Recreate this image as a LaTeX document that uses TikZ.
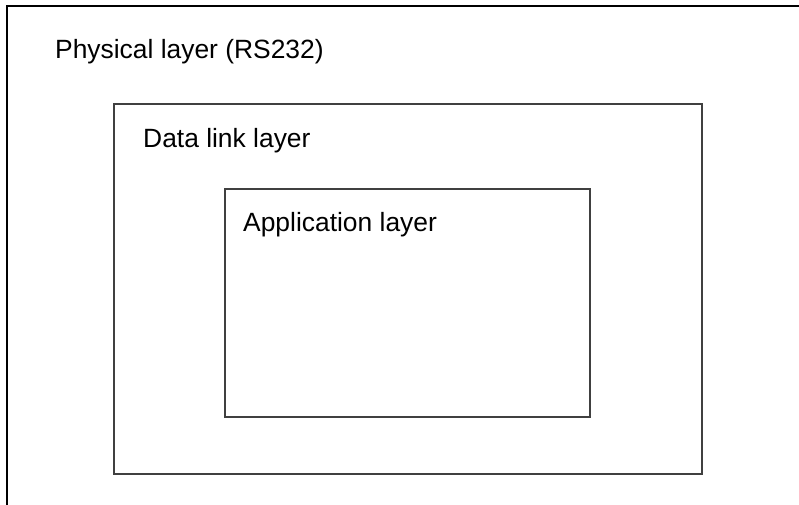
\documentclass[tikz,border=0pt]{standalone}
\usepackage{fontspec}
\setmainfont{Liberation Sans}
\begin{document}
\begin{tikzpicture}[x=1pt,y=-1pt,
  layerbox/.style={draw=black!75, line width=1.4pt},
  outerbox/.style={draw=black, line width=2.6pt},
  lbl/.style={anchor=base west, inner sep=0pt, font=\fontsize{26.4}{30}\selectfont}]
\useasboundingbox (0,0) rectangle (799,504);
\begin{scope}
\clip (0,0) rectangle (799,504);
\draw[outerbox] (7,6) rectangle (830,540);
\end{scope}
\draw[layerbox] (114,104) rectangle (702,474);
\draw[layerbox] (225,189) rectangle (590,417);
\node[lbl] (phys) at (55,58) {Physical layer (RS232)};
\node[lbl] (dl) at (143,147) {Data link layer};
\node[lbl] (app) at (243,231) {Application layer};
\end{tikzpicture}
\end{document}
